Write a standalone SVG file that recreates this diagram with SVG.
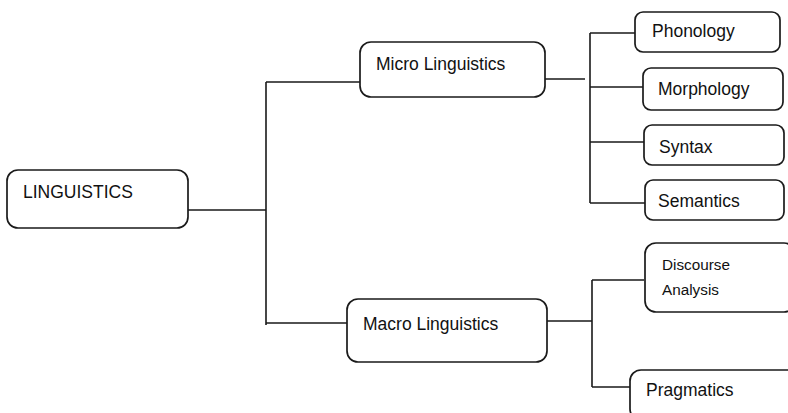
<svg xmlns="http://www.w3.org/2000/svg" width="788" height="413" viewBox="0 0 788 413">
<style>
.box{fill:#fff;stroke:#1a1a1a;stroke-width:1.7}
.ln{fill:none;stroke:#1a1a1a;stroke-width:1.6}
.t{font-family:"Liberation Sans",Arial,sans-serif;font-size:17.5px;fill:#111}
.s{font-size:15.3px}
</style>
<rect width="788" height="413" fill="#fff"/>
<g id="connectors">
<path class="ln" d="M188 210 H266 M266 82 V325 M266 82 H360 M266 323 H347"/>
<path class="ln" d="M545 79 H585 M590 33 V203 M590 33 H635 M590 87 H643 M590 142 H645 M590 203 H645"/>
<path class="ln" d="M547 321 H592 M592 280 V387 M592 280 H644 M592 387 H630"/>
</g>
<g id="linguistics"><rect class="box" x="7" y="170" width="181" height="58" rx="11"/><text class="t" x="23" y="198" font-size="15.5">LINGUISTICS</text></g>
<g id="micro"><rect class="box" x="360" y="42" width="185" height="55" rx="11"/><text class="t" x="376" y="70" font-size="18">Micro Linguistics</text></g>
<g id="macro"><rect class="box" x="347" y="299" width="200" height="63" rx="11"/><text class="t" x="363" y="330" font-size="18">Macro Linguistics</text></g>
<g id="phonology"><rect class="box" x="635" y="12" width="145" height="40" rx="8"/><text class="t" x="652" y="37">Phonology</text></g>
<g id="morphology"><rect class="box" x="643" y="68" width="140" height="42" rx="8"/><text class="t" x="658" y="95" font-size="18">Morphology</text></g>
<g id="syntax"><rect class="box" x="644" y="125" width="140" height="40" rx="8"/><text class="t" x="659" y="153">Syntax</text></g>
<g id="semantics"><rect class="box" x="645" y="180" width="139" height="40" rx="8"/><text class="t" x="658" y="207">Semantics</text></g>
<g id="discourse"><rect class="box" x="645" y="243" width="150" height="69" rx="11"/><text class="t s" x="662" y="270">Discourse</text><text class="t s" x="662" y="295">Analysis</text></g>
<g id="pragmatics"><rect class="box" x="630" y="370" width="170" height="50" rx="11"/><text class="t" x="646" y="396">Pragmatics</text></g>
</svg>
